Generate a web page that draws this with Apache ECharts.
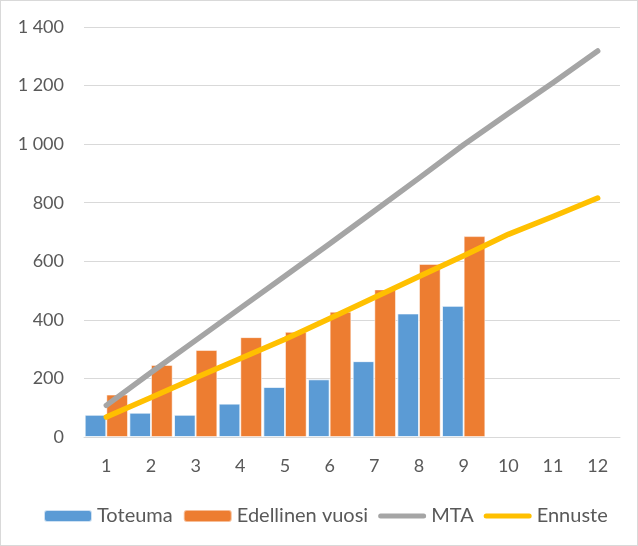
<!DOCTYPE html>
<html>
<head>
<meta charset="utf-8">
<script src="https://cdn.jsdelivr.net/npm/echarts@6/dist/echarts.min.js"></script>
<style>
  html, body { margin: 0; padding: 0; background: #fff; }
  #myChart { width: 638px; height: 546px; box-sizing: border-box; border: 1px solid #d9d9d9; }
</style>
</head>
<body>
<div id="myChart"></div>
<script>
// kuukaudet
var months = ["1", "2", "3", "4", "5", "6", "7", "8", "9", "10", "11", "12"];
// sarjat
var toteuma = [76, 83, 76, 114, 171, 197, 259, 422, 448];
var edellinenVuosi = [145, 246, 297, 341, 359, 428, 504, 591, 686];
var mta = [108, 220, 330, 440, 550, 660, 772, 884, 998, 1105, 1210, 1318];
var ennuste = [68, 135, 202, 268, 334, 405, 476, 548, 619, 692, 753, 816];
// y-akseli
var yMin = 0, yMax = 1400, yStep = 200;

var fontName = "Lato";
var textColor = "#595959";
// viivan selite: ohut pyöristetty viiva 48x12 laatikossa
var lineIcon = "path://M0,0 L0.01,0 L0,0.01 Z M48,12 L47.99,12 L48,11.99 Z " +
  "M2.5,3.5 L45.5,3.5 A2.5,2.5 0 0 1 45.5,8.5 L2.5,8.5 A2.5,2.5 0 0 1 2.5,3.5 Z";

function fmtThousands(v) {
  return String(v).replace(/\B(?=(\d{3})+(?!\d))/g, " ");
}

var myChart = echarts.init(document.getElementById("myChart"));
var option = {
  animation: false,
  textStyle: { fontFamily: fontName },
  grid: { left: 83, right: 17, top: 26, bottom: 108 },
  legend: {
    left: 42,
    top: 505,
    padding: 0,
    itemWidth: 48,
    itemHeight: 12,
    itemGap: 10,
    textStyle: { fontSize: 20, color: textColor, fontFamily: fontName },
    data: [
      { name: "Toteuma" },
      { name: "Edellinen vuosi" },
      { name: "MTA", icon: lineIcon, itemStyle: { color: "#a5a5a5", borderWidth: 0 } },
      { name: "Ennuste", icon: lineIcon, itemStyle: { color: "#ffc000", borderWidth: 0 } }
    ]
  },
  xAxis: {
    type: "category",
    data: months,
    axisLine: { lineStyle: { color: "#d9d9d9", width: 1 } },
    axisTick: { show: false },
    axisLabel: { color: textColor, fontSize: 18, margin: 20 }
  },
  yAxis: {
    type: "value",
    min: yMin,
    max: yMax,
    interval: yStep,
    axisLine: { show: false },
    axisTick: { show: false },
    splitLine: { lineStyle: { color: "#d9d9d9", width: 1 } },
    axisLabel: { color: textColor, fontSize: 18, margin: 20, formatter: fmtThousands }
  },
  series: [
    {
      name: "Toteuma",
      type: "bar",
      data: toteuma,
      barGap: "0%",
      barCategoryGap: "3%",
      itemStyle: { color: "#5b9bd5", borderColor: "rgba(255,255,255,0.7)", borderWidth: 1 }
    },
    {
      name: "Edellinen vuosi",
      type: "bar",
      data: edellinenVuosi,
      barGap: "0%",
      barCategoryGap: "3%",
      itemStyle: { color: "#ed7d31", borderColor: "rgba(255,255,255,0.5)", borderWidth: 1 }
    },
    {
      name: "MTA",
      type: "line",
      data: mta,
      symbol: "none",
      lineStyle: { color: "#a5a5a5", width: 5.5, cap: "round", join: "round" },
      itemStyle: { color: "#a5a5a5" }
    },
    {
      name: "Ennuste",
      type: "line",
      data: ennuste,
      symbol: "none",
      lineStyle: { color: "#ffc000", width: 5.5, cap: "round", join: "round" },
      itemStyle: { color: "#ffc000" }
    }
  ]
};
if (option && typeof option === "object") {
  myChart.setOption(option);
}
</script>
</body>
</html>
